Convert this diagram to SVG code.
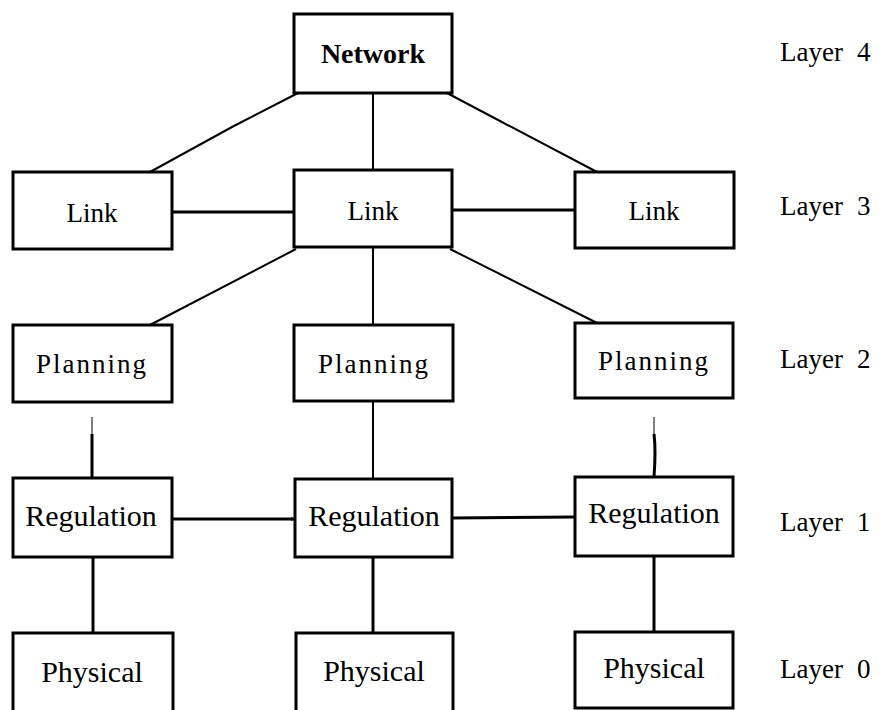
<svg xmlns="http://www.w3.org/2000/svg" width="883" height="710" viewBox="0 0 883 710">
<style>
.box{fill:#fff;stroke:#000;stroke-width:3}
text{font-family:"Liberation Serif","DejaVu Serif",serif;fill:#000}
.t{text-anchor:middle}
.nw{font-size:28px;font-weight:bold}
.lk{font-size:27px}
.pl{font-size:27px;letter-spacing:2px}
.rg{font-size:30px}
.ph{font-size:30px}
.lay{font-size:27px}
.c{fill:none;stroke:#000;stroke-width:2}
.c3{fill:none;stroke:#000;stroke-width:3}
.c1{fill:none;stroke:#000;stroke-width:1}
</style>
<defs>
<marker id="ah" markerWidth="4" markerHeight="4" refX="4" refY="2" orient="auto" markerUnits="userSpaceOnUse">
<path d="M0,0 L4,2 L0,4 Z" fill="#000"/>
</marker>
</defs>
<rect width="883" height="710" fill="#fff"/>
<g id="connectors">
<polyline class="c" points="298,93 232,127 150,172"/>
<polyline class="c" points="373,93 373,170"/>
<polyline class="c" points="447,93 500,121 597,172"/>
<line class="c3" x1="172" y1="212" x2="294" y2="212"/>
<line class="c3" x1="452" y1="210" x2="575" y2="210"/>
<line class="c" x1="296" y1="249" x2="150" y2="325"/>
<line class="c" x1="373" y1="247" x2="373" y2="325"/>
<line class="c" x1="450" y1="249" x2="597" y2="323"/>
<line class="c1" x1="92" y1="417" x2="92" y2="436"/>
<line class="c3" x1="92" y1="434" x2="92" y2="478"/>
<line class="c" x1="373" y1="401" x2="373" y2="479"/>
<line class="c1" x1="654" y1="417" x2="654" y2="436"/>
<path class="c3" d="M654,434 Q656,450 654,477"/>
<line class="c3" x1="172" y1="519" x2="295" y2="519" marker-end="url(#ah)"/>
<line class="c3" x1="452" y1="518" x2="575" y2="517"/>
<line class="c3" x1="93" y1="557" x2="93" y2="633"/>
<line class="c3" x1="373" y1="557" x2="373" y2="633"/>
<line class="c3" x1="654" y1="556" x2="654" y2="632"/>
</g>
<g id="network"><rect class="box" x="294" y="14" width="158" height="79"/><text class="t nw" x="373" y="63">Network</text></g>
<g id="link-left"><rect class="box" x="13" y="172" width="159" height="77"/><text class="t lk" x="92" y="222">Link</text></g>
<g id="link-mid"><rect class="box" x="294" y="170" width="158" height="77"/><text class="t lk" x="373" y="220">Link</text></g>
<g id="link-right"><rect class="box" x="575" y="172" width="159" height="76"/><text class="t lk" x="654" y="220">Link</text></g>
<g id="planning-left"><rect class="box" x="13" y="325" width="159" height="77"/><text class="t pl" x="92" y="373">Planning</text></g>
<g id="planning-mid"><rect class="box" x="294" y="325" width="159" height="76"/><text class="t pl" x="374" y="373">Planning</text></g>
<g id="planning-right"><rect class="box" x="575" y="323" width="158" height="75"/><text class="t pl" x="654" y="370">Planning</text></g>
<g id="regulation-left"><rect class="box" x="13" y="478" width="159" height="79"/><text class="t rg" x="91" y="526">Regulation</text></g>
<g id="regulation-mid"><rect class="box" x="295" y="479" width="157" height="78"/><text class="t rg" x="374" y="526">Regulation</text></g>
<g id="regulation-right"><rect class="box" x="575" y="477" width="158" height="79"/><text class="t rg" x="654" y="523">Regulation</text></g>
<g id="physical-left"><rect class="box" x="13" y="633" width="160" height="90"/><text class="t ph" x="92" y="682">Physical</text></g>
<g id="physical-mid"><rect class="box" x="296" y="633" width="157" height="90"/><text class="t ph" x="374" y="681">Physical</text></g>
<g id="physical-right"><rect class="box" x="575" y="632" width="158" height="76"/><text class="t ph" x="654" y="678">Physical</text></g>
<g id="layers">
<text class="lay" x="780" y="61">Layer<tspan x="857">4</tspan></text>
<text class="lay" x="780" y="215">Layer<tspan x="857">3</tspan></text>
<text class="lay" x="780" y="368">Layer<tspan x="857">2</tspan></text>
<text class="lay" x="780" y="531">Layer<tspan x="857">1</tspan></text>
<text class="lay" x="780" y="678">Layer<tspan x="857">0</tspan></text>
</g>
</svg>
